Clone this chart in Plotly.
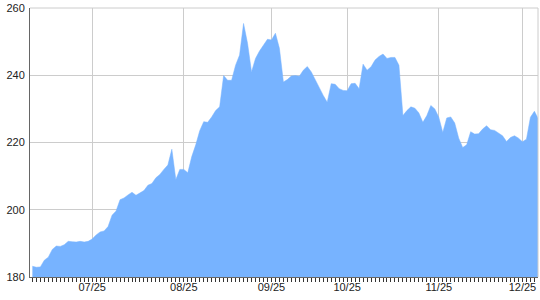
import plotly.graph_objects as go

values = [
    183.2, 182.9, 183.0, 185.0, 185.9, 188.2, 189.2, 189.1, 189.6, 190.6,
    190.5, 190.4, 190.6, 190.4, 190.6, 191.3, 192.5, 193.4, 193.7, 195.0,
    198.4, 199.6, 203.0, 203.5, 204.4, 205.2, 204.3, 205.1, 205.7, 207.3,
    207.8, 209.5,
    210.5, 212.0, 213.3, 218.0, 209.0, 212.0, 212.0, 211.0, 215.8, 219.3,
    223.5, 226.2, 226.0, 227.6, 229.5, 230.6, 239.9, 238.5, 238.5, 243.0,
    246.0, 255.4, 249.5, 241.0, 245.0, 247.2, 248.8, 250.7, 250.5, 252.5,
    248.0,
    238.0, 238.7, 239.8, 239.9, 239.7, 241.5, 242.6, 241.0, 238.5, 236.5,
    234.0, 232.0, 237.5, 237.3, 236.0, 235.5, 235.4, 237.5, 237.6, 236.0,
    243.3, 241.5, 242.5, 244.5, 245.6, 246.3, 245.0, 245.3, 245.3, 243.0,
    228.0, 229.5, 230.6, 230.2, 228.8, 226.0, 228.0, 231.0, 230.0, 227.5,
    223.0, 227.3, 227.6, 225.8, 221.3, 218.5, 219.3, 223.2, 222.5, 222.6,
    224.0, 225.0, 223.8, 223.6, 222.7, 222.0, 220.3, 221.5, 222.0, 221.3,
    220.2, 221.0, 227.5, 229.3, 227.0,
]
x_index = list(range(len(values)))
tick_index = [15, 38, 60, 79, 102, 123]
tick_labels = ["07/25", "08/25", "09/25", "10/25", "11/25", "12/25"]
y_ticks = [180, 200, 220, 240, 260]

fill_color = "rgb(119,179,255)"
grid_color = "#cccccc"
axis_color = "#666666"
font = dict(family="Liberation Sans, Arial, sans-serif", size=11, color="#222222")

fig = go.Figure()
fig.add_trace(go.Scatter(
    x=x_index, y=values, mode="lines",
    line=dict(color=fill_color, width=0.5),
    fill="tozeroy", fillcolor=fill_color,
    hoverinfo="skip", showlegend=False,
))

fig.update_layout(
    width=540, height=300,
    margin=dict(l=30, r=2, t=8, b=23),
    paper_bgcolor="white", plot_bgcolor="white",
    font=font,
    xaxis=dict(
        range=[-0.6, 126.9],
        tickmode="array", tickvals=tick_index, ticktext=tick_labels,
        showgrid=True, gridcolor=grid_color, gridwidth=1,
        showline=True, linecolor=axis_color, linewidth=1,
        ticks="outside", ticklen=4, tickcolor="#333333", tickwidth=1,
        ticklabelstandoff=-4,
        minor=dict(ticks="outside", tickmode="linear", tick0=0, dtick=1,
                   ticklen=4, tickcolor="#333333", tickwidth=1, showgrid=False),
        zeroline=False, fixedrange=True,
    ),
    yaxis=dict(
        range=[180, 260],
        tickmode="array", tickvals=y_ticks,
        showgrid=True, gridcolor=grid_color, gridwidth=1,
        showline=True, linecolor=axis_color, linewidth=1,
        ticks="", ticklabelstandoff=2,
        zeroline=False, fixedrange=True,
    ),
    shapes=[
        dict(type="line", xref="paper", yref="paper", x0=1, x1=1, y0=0, y1=1,
             line=dict(color=grid_color, width=1)),
        dict(type="line", xref="paper", yref="paper", x0=0, x1=1, y0=1, y1=1,
             line=dict(color=grid_color, width=1)),
    ],
)

fig.write_html("out.html")
